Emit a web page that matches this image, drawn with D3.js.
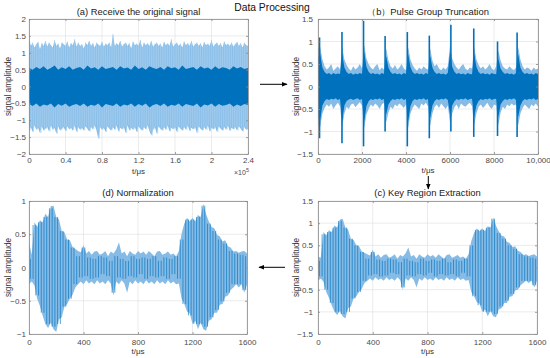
<!DOCTYPE html>
<html><head><meta charset="utf-8">
<script src="https://cdn.jsdelivr.net/npm/d3@7"></script>
<style>
body{margin:0;background:#fff}
svg{display:block}
text{font-family:"Liberation Sans",Arial,sans-serif}
</style>
</head><body>
<svg id="chart" width="550" height="358"></svg>
<script>
// ---------- tick definitions ----------
const aTicksX = [0, 40000, 80000, 120000, 160000, 200000, 240000];
const aTickLabelsX = ["0", "0.4", "0.8", "1.2", "1.6", "2", "2.4"];
const aTicksY = [-2, -1.5, -1, -0.5, 0, 0.5, 1, 1.5, 2];
const bTicksX = [0, 2000, 4000, 6000, 8000, 10000];
const bTickLabelsX = ["0", "2000", "4000", "6000", "8000", "10,000"];
const bcTicksY = [-1.5, -1, -0.5, 0, 0.5, 1, 1.5];
const cdTicksX = [0, 400, 800, 1200, 1600];
const cdTickLabelsX = ["0", "400", "800", "1200", "1600"];
const dTicksY = [-1, -0.5, 0, 0.5, 1];

// ---------- (a) original signal: envelope samples every 2000 (x 10^5 scale) ----------
const aStep = 2000;
const aOuterHi = [1.45,1.2,1.3,1.15,1.25,1.32,1.1,1.28,1.2,1.35,
 1.18,1.3,1.22,1.15,1.38,1.2,1.27,1.12,1.3,1.25,
 1.2,1.33,1.15,1.28,1.22,1.4,1.18,1.3,1.2,1.25,
 1.12,1.3,1.22,1.35,1.2,1.28,1.15,1.3,1.24,1.2,
 1.32,1.18,1.27,1.22,1.3,1.15,1.55,1.2,1.28,1.22,
 1.35,1.18,1.25,1.3,1.2,1.28,1.12,1.33,1.22,1.27,
 1.2,1.38,1.15,1.3,1.22,1.28,1.2,1.35,1.18,1.25,
 1.3,1.2,1.27,1.15,1.32,1.22,1.28,1.2,1.4,1.18,
 1.25,1.3,1.2,1.27,1.15,1.33,1.22,1.28,1.2,1.35,
 1.18,1.25,1.3,1.2,1.28,1.15,1.32,1.22,1.27,1.2,
 1.38,1.18,1.25,1.3,1.2,1.28,1.15,1.33,1.22,1.27,
 1.2,1.3,1.18,1.25,1.32,1.2,1.28,1.15,1.3,1.22,1.2];
const aOuterLo = [-1.3,-1.2,-1.35,-1.15,-1.28,-1.22,-1.38,-1.18,-1.3,-1.25,
 -1.2,-1.33,-1.15,-1.28,-1.22,-1.4,-1.18,-1.3,-1.25,-1.2,
 -1.32,-1.18,-1.27,-1.22,-1.3,-1.15,-1.35,-1.2,-1.28,-1.22,
 -1.3,-1.18,-1.25,-1.33,-1.2,-1.27,-1.15,-1.3,-1.55,-1.2,
 -1.28,-1.22,-1.35,-1.18,-1.25,-1.3,-1.2,-1.28,-1.15,-1.33,
 -1.22,-1.27,-1.2,-1.38,-1.15,-1.3,-1.22,-1.28,-1.2,-1.35,
 -1.18,-1.25,-1.3,-1.2,-1.27,-1.15,-1.32,-1.45,-1.28,-1.2,
 -1.4,-1.18,-1.25,-1.3,-1.2,-1.28,-1.15,-1.33,-1.22,-1.27,
 -1.2,-1.35,-1.18,-1.25,-1.3,-1.2,-1.28,-1.15,-1.32,-1.22,
 -1.27,-1.2,-1.38,-1.18,-1.25,-1.3,-1.2,-1.28,-1.15,-1.33,
 -1.22,-1.27,-1.2,-1.35,-1.18,-1.25,-1.3,-1.2,-1.28,-1.15,
 -1.32,-1.22,-1.27,-1.2,-1.3,-1.18,-1.25,-1.33,-1.2,-1.28,-1.25];
const aCoreStep = 4000;
const aCoreHi = [0.55,0.5,0.58,0.52,0.6,0.5,0.55,0.62,0.5,0.57,
 0.52,0.6,0.5,0.55,0.58,0.5,0.62,0.53,0.57,0.5,
 0.6,0.52,0.55,0.58,0.5,0.6,0.53,0.56,0.5,0.62,
 0.52,0.57,0.5,0.6,0.55,0.52,0.58,0.5,0.6,0.54,
 0.57,0.5,0.62,0.52,0.55,0.58,0.5,0.6,0.53,0.56,
 0.5,0.6,0.52,0.57,0.55,0.5,0.6,0.53,0.58,0.52,0.55];
const aCoreLo = [-0.52,-0.58,-0.5,-0.6,-0.53,-0.56,-0.5,-0.62,-0.52,-0.57,
 -0.5,-0.6,-0.55,-0.52,-0.58,-0.5,-0.6,-0.54,-0.57,-0.5,
 -0.62,-0.52,-0.55,-0.58,-0.5,-0.6,-0.53,-0.56,-0.5,-0.6,
 -0.52,-0.57,-0.5,-0.62,-0.55,-0.52,-0.58,-0.5,-0.6,-0.54,
 -0.57,-0.5,-0.6,-0.52,-0.55,-0.58,-0.5,-0.62,-0.53,-0.56,
 -0.5,-0.6,-0.52,-0.57,-0.55,-0.5,-0.6,-0.53,-0.58,-0.52,-0.55];

// ---------- (b) pulse group ----------
const bPulseT = [70, 1090, 2070, 3050, 4060, 5060, 6040, 7080, 8160, 9050];
const bPulseHi = [1.09, 1.21, 1.46, 1.12, 1.21, 1.13, 1.37, 1.29, 1.0, 1.2];
const bPulseLo = [-1.15, -1.26, -1.33, -1.0, -1.33, -1.15, -1.0, -1.12, -1.1, -1.12];
const bStep = 100;
const bOuterHi = [0.85,0.88,0.6,0.45,0.38,0.42,0.5,0.35,0.4,0.45,0.38,
 0.88,0.6,0.48,0.4,0.35,0.45,0.38,0.42,0.5,0.4,
 0.92,0.62,0.5,0.42,0.38,0.45,0.5,0.36,0.42,0.38,
 0.85,0.58,0.45,0.4,0.48,0.38,0.42,0.5,0.4,0.36,
 0.88,0.6,0.48,0.4,0.35,0.42,0.38,0.45,0.4,0.38,
 0.85,0.58,0.45,0.5,0.4,0.36,0.42,0.38,0.45,
 0.9,0.62,0.5,0.42,0.38,0.45,0.5,0.4,0.36,0.42,0.4,
 0.88,0.6,0.48,0.4,0.45,0.38,0.42,0.5,0.4,0.36,0.45,
 0.8,0.58,0.45,0.4,0.38,0.45,0.4,0.36,0.42,
 0.88,0.6,0.45,0.38,0.42,0.4,0.35,0.42,0.38,0.4];
const bOuterLo = [-0.88,-0.9,-0.6,-0.48,-0.4,-0.45,-0.38,-0.5,-0.42,-0.36,-0.44,
 -0.9,-0.6,-0.45,-0.5,-0.4,-0.38,-0.46,-0.4,-0.35,-0.42,
 -0.92,-0.62,-0.5,-0.4,-0.45,-0.38,-0.42,-0.5,-0.4,-0.36,
 -0.8,-0.58,-0.45,-0.5,-0.4,-0.44,-0.38,-0.42,-0.48,-0.4,
 -0.92,-0.6,-0.48,-0.4,-0.45,-0.5,-0.38,-0.42,-0.36,-0.44,
 -0.88,-0.6,-0.45,-0.4,-0.48,-0.38,-0.44,-0.5,-0.42,
 -0.8,-0.6,-0.46,-0.4,-0.5,-0.38,-0.42,-0.45,-0.4,-0.36,-0.44,
 -0.86,-0.6,-0.45,-0.4,-0.48,-0.42,-0.36,-0.45,-0.5,-0.4,-0.42,
 -0.86,-0.58,-0.45,-0.5,-0.4,-0.44,-0.38,-0.42,-0.4,
 -0.86,-0.6,-0.48,-0.4,-0.45,-0.5,-0.4,-0.44,-0.38,-0.45];
const bCoreHi = [0.68,0.72,0.42,0.32,0.28,0.3,0.26,0.3,0.27,0.29,0.28,
 0.72,0.42,0.32,0.28,0.3,0.26,0.29,0.27,0.3,0.28,
 0.78,0.44,0.33,0.28,0.3,0.27,0.29,0.26,0.3,0.28,
 0.68,0.42,0.32,0.28,0.3,0.27,0.29,0.26,0.3,0.28,
 0.72,0.44,0.32,0.28,0.3,0.27,0.29,0.26,0.3,0.28,
 0.68,0.42,0.32,0.28,0.3,0.27,0.29,0.26,0.3,
 0.76,0.44,0.33,0.28,0.3,0.27,0.29,0.26,0.3,0.28,0.27,
 0.72,0.44,0.32,0.28,0.3,0.27,0.29,0.26,0.3,0.28,0.27,
 0.62,0.4,0.32,0.28,0.3,0.27,0.29,0.26,0.3,
 0.72,0.42,0.32,0.28,0.3,0.27,0.29,0.26,0.3,0.28];
const bCoreLo = [-0.7,-0.74,-0.42,-0.32,-0.28,-0.3,-0.27,-0.29,-0.26,-0.3,-0.28,
 -0.75,-0.42,-0.32,-0.29,-0.27,-0.3,-0.28,-0.26,-0.3,-0.28,
 -0.78,-0.44,-0.33,-0.28,-0.3,-0.27,-0.29,-0.26,-0.3,-0.28,
 -0.62,-0.4,-0.32,-0.28,-0.3,-0.27,-0.29,-0.26,-0.3,-0.28,
 -0.78,-0.44,-0.32,-0.28,-0.3,-0.27,-0.29,-0.26,-0.3,-0.28,
 -0.7,-0.42,-0.32,-0.28,-0.3,-0.27,-0.29,-0.26,-0.3,
 -0.62,-0.42,-0.33,-0.28,-0.3,-0.27,-0.29,-0.26,-0.3,-0.28,-0.27,
 -0.68,-0.42,-0.32,-0.28,-0.3,-0.27,-0.29,-0.26,-0.3,-0.28,-0.27,
 -0.68,-0.4,-0.32,-0.28,-0.3,-0.27,-0.29,-0.26,-0.3,
 -0.68,-0.42,-0.32,-0.28,-0.3,-0.27,-0.29,-0.26,-0.3,-0.28];

// ---------- (c) key region: samples every 20 us ----------
const cStep = 20;
const cEnvHi = [0.25,0.22,0.8,0.72,0.84,0.8,0.95,0.9,1.08,1.1,
 0.9,0.85,0.65,0.62,0.5,0.48,0.36,0.33,0.3,0.27,
 0.4,0.25,0.3,0.22,0.28,0.3,0.22,0.25,0.3,0.2,
 0.28,0.25,0.32,0.45,0.25,0.28,0.2,0.3,0.25,0.22,
 0.3,0.25,0.28,0.22,0.3,0.25,0.2,0.28,0.3,0.22,
 0.25,0.28,0.22,0.25,0.2,0.3,0.6,0.78,0.88,0.82,
 0.88,0.82,0.93,0.9,1.13,0.95,0.82,0.72,0.7,0.58,
 0.55,0.46,0.48,0.38,0.35,0.28,0.3,0.26,0.28,0.3,0.25];
const cEnvLo = [-0.3,-0.25,-0.32,-0.55,-0.68,-0.85,-1.0,-1.07,-0.98,-1.1,
 -1.15,-0.92,-0.88,-0.7,-0.65,-0.55,-0.48,-0.35,-0.3,-0.25,
 -0.3,-0.22,-0.28,-0.25,-0.3,-0.22,-0.28,-0.25,-0.3,-0.22,
 -0.28,-0.5,-0.25,-0.3,-0.22,-0.28,-0.45,-0.25,-0.3,-0.22,
 -0.28,-0.25,-0.3,-0.22,-0.28,-0.25,-0.3,-0.22,-0.28,-0.25,
 -0.3,-0.22,-0.28,-0.25,-0.3,-0.28,-0.55,-0.65,-0.78,-0.82,
 -1.0,-0.95,-1.1,-0.98,-1.1,-1.12,-0.95,-0.92,-0.8,-0.8,
 -0.66,-0.65,-0.52,-0.5,-0.4,-0.35,-0.3,-0.35,-0.3,-0.45,-0.3];
const cPeaks = [0.15,-0.2,0.75,-0.5,0.8,-0.8,0.9,-1.0,1.05,-1.05,
 0.9,-1.0,0.65,-0.7,0.5,-0.55,0.35,-0.3,0.2,-0.18,
 0.35,-0.15,0.18,-0.2,0.15,-0.18,0.2,-0.12,0.18,-0.15,
 0.12,-0.45,0.2,-0.18,0.15,-0.2,0.12,-0.15,0.2,-0.18,
 0.15,-0.12,0.18,-0.2,0.15,-0.15,0.2,-0.18,0.12,-0.15,
 0.18,-0.2,0.15,-0.12,0.2,-0.2,0.5,-0.65,0.85,-0.85,
 0.85,-1.0,0.9,-1.0,1.1,-1.05,0.78,-0.88,0.65,-0.75,
 0.5,-0.6,0.42,-0.45,0.3,-0.3,0.25,-0.3,0.22,-0.4,0.2];

// ---------- (d) normalization: samples every 20 us ----------
const dStep = 20;
const dEnvHi = [0.38,0.19,0.68,0.61,0.71,0.68,0.81,0.76,0.92,0.93,
 0.76,0.72,0.55,0.53,0.42,0.41,0.31,0.28,0.25,0.23,
 0.34,0.21,0.25,0.19,0.24,0.25,0.19,0.21,0.25,0.17,
 0.24,0.21,0.27,0.38,0.21,0.24,0.17,0.25,0.21,0.19,
 0.25,0.21,0.24,0.19,0.25,0.21,0.17,0.24,0.25,0.19,
 0.21,0.24,0.19,0.21,0.17,0.25,0.51,0.66,0.75,0.69,
 0.75,0.69,0.79,0.76,0.96,0.8,0.69,0.61,0.59,0.49,
 0.47,0.39,0.41,0.32,0.3,0.24,0.25,0.22,0.24,0.25,0.21];
const dEnvLo = [-0.25,-0.21,-0.27,-0.47,-0.58,-0.72,-0.85,-0.91,-0.83,-0.93,
 -0.97,-0.78,-0.75,-0.59,-0.55,-0.47,-0.41,-0.3,-0.25,-0.21,
 -0.25,-0.19,-0.24,-0.21,-0.25,-0.19,-0.24,-0.21,-0.25,-0.19,
 -0.24,-0.42,-0.21,-0.25,-0.19,-0.24,-0.38,-0.21,-0.25,-0.19,
 -0.24,-0.21,-0.25,-0.19,-0.24,-0.21,-0.25,-0.19,-0.24,-0.21,
 -0.25,-0.19,-0.24,-0.21,-0.25,-0.24,-0.47,-0.55,-0.66,-0.69,
 -0.85,-0.8,-0.93,-0.83,-0.93,-0.95,-0.8,-0.78,-0.68,-0.68,
 -0.56,-0.55,-0.44,-0.42,-0.34,-0.3,-0.25,-0.3,-0.25,-0.38,-0.25];
const dPeaks = [0.13,-0.17,0.64,-0.42,0.68,-0.68,0.76,-0.85,0.89,-0.89,
 0.76,-0.85,0.55,-0.59,0.42,-0.47,0.3,-0.25,0.17,-0.15,
 0.3,-0.13,0.15,-0.17,0.13,-0.15,0.17,-0.1,0.15,-0.13,
 0.1,-0.38,0.17,-0.15,0.13,-0.17,0.1,-0.13,0.17,-0.15,
 0.13,-0.1,0.15,-0.17,0.13,-0.13,0.17,-0.15,0.1,-0.13,
 0.15,-0.17,0.13,-0.1,0.17,-0.17,0.42,-0.55,0.72,-0.72,
 0.72,-0.85,0.76,-0.85,0.93,-0.89,0.66,-0.75,0.55,-0.64,
 0.42,-0.51,0.36,-0.38,0.25,-0.25,0.21,-0.25,0.19,-0.34,0.17];

// ---------- drawing ----------
const LIGHT = "#86bbe6";
const DARK = "#0072BD";
const svg = d3.select("#chart");
const minus = v => (v < 0 ? "\u2212" + Math.abs(v) : String(v));

function areaLayer(g, x, y, step, hi, lo, color) {
  const data = hi.map((h, i) => ({ t: i * step, h, l: lo[i] }));
  g.append("path").datum(data)
    .attr("d", d3.area().x(d => x(d.t)).y0(d => y(d.l)).y1(d => y(d.h)))
    .attr("fill", color).attr("stroke", "none");
}
function strokeLayer(g, x, y, step, vals, color, w) {
  const segs = vals.slice(1).map((v, i) => ({ t: i * step + step / 2, a: vals[i], b: v }));
  g.append("g").selectAll("line").data(segs).join("line")
    .attr("x1", d => x(d.t)).attr("x2", d => x(d.t))
    .attr("y1", d => y(d.a)).attr("y2", d => y(d.b))
    .attr("stroke", color).attr("stroke-width", w);
}
function zigzagLayer(g, x, y, step, hi, lo, color, w) {
  const pts = [];
  hi.forEach((h, i) => { pts.push([i * step, h]); pts.push([i * step + step / 2, lo[i]]); });
  g.append("path").datum(pts)
    .attr("d", d3.line().x(d => x(d[0])).y(d => y(d[1])))
    .attr("fill", "none").attr("stroke", color).attr("stroke-width", w);
}

function panel(cfg) {
  const g = svg.append("g");
  const x = d3.scaleLinear().domain(cfg.xDomain).range([cfg.left, cfg.right]);
  const y = d3.scaleLinear().domain(cfg.yDomain).range([cfg.bottom, cfg.top]);

  g.append("g").selectAll("line").data(cfg.xTicks).join("line")
    .attr("x1", d => x(d)).attr("x2", d => x(d))
    .attr("y1", cfg.top).attr("y2", cfg.bottom)
    .attr("stroke", "#e3e3e3").attr("stroke-width", 0.7);
  g.append("g").selectAll("line").data(cfg.yTicks).join("line")
    .attr("y1", d => y(d)).attr("y2", d => y(d))
    .attr("x1", cfg.left).attr("x2", cfg.right)
    .attr("stroke", "#e3e3e3").attr("stroke-width", 0.7);

  const cid = "clip-" + cfg.name;
  svg.append("clipPath").attr("id", cid).append("rect")
    .attr("x", cfg.left).attr("y", cfg.top)
    .attr("width", cfg.right - cfg.left).attr("height", cfg.bottom - cfg.top);
  const sg = g.append("g").attr("clip-path", `url(#${cid})`);
  cfg.draw(sg, x, y);

  const style = sel => {
    sel.select(".domain").attr("stroke", "#8a8a8a").attr("stroke-width", 0.8);
    sel.selectAll(".tick line").attr("stroke", "#8a8a8a").attr("stroke-width", 0.8);
    sel.selectAll("text").attr("fill", "#4a4a4a").attr("font-size", 8)
      .attr("font-family", "'Liberation Sans', Arial, sans-serif");
    sel.attr("font-family", null).attr("font-size", null);
  };
  g.append("g").attr("transform", `translate(0,${cfg.bottom})`)
    .call(d3.axisBottom(x).tickValues(cfg.xTicks).tickFormat((d, i) => cfg.xLabels[i])
      .tickSizeInner(-2).tickSizeOuter(0).tickPadding(cfg.xPad)).call(style);
  g.append("g").attr("transform", `translate(0,${cfg.top})`)
    .call(d3.axisTop(x).tickValues(cfg.xTicks).tickFormat("")
      .tickSizeInner(-2).tickSizeOuter(0)).call(style);
  g.append("g").attr("transform", `translate(${cfg.left},0)`)
    .call(d3.axisLeft(y).tickValues(cfg.yTicks).tickFormat(minus)
      .tickSizeInner(-2).tickSizeOuter(0).tickPadding(cfg.yPad)).call(style);
  g.append("g").attr("transform", `translate(${cfg.right},0)`)
    .call(d3.axisRight(y).tickValues(cfg.yTicks).tickFormat("")
      .tickSizeInner(-2).tickSizeOuter(0)).call(style);

  const cx = (cfg.left + cfg.right) / 2;
  g.append("text").attr("x", cx).attr("y", cfg.titleY).attr("text-anchor", "middle")
    .attr("font-size", 9.4).attr("fill", "#1a1a1a").text(cfg.title);
  g.append("text").attr("x", cx).attr("y", cfg.xLabelY).attr("text-anchor", "middle")
    .attr("font-size", 8).attr("fill", "#333").text("t/\u03bcs");
  g.append("text")
    .attr("transform", `translate(${cfg.yLabelX},${(cfg.top + cfg.bottom) / 2}) rotate(-90)`)
    .attr("text-anchor", "middle").attr("font-size", 8.2).attr("fill", "#333")
    .text("signal amplitude");
  return { x, y };
}

panel({
  name: "a", left: 29, right: 248, top: 19, bottom: 154,
  xDomain: [0, 240000], yDomain: [-2, 2],
  xTicks: aTicksX, xLabels: aTickLabelsX, yTicks: aTicksY, xPad: 3.5, yPad: 3,
  title: "(a) Receive the original signal", titleY: 15, xLabelY: 174, yLabelX: 10.5,
  draw: (g, x, y) => {
    areaLayer(g, x, y, aStep, aOuterHi, aOuterLo, LIGHT);
    zigzagLayer(g, x, y, aStep, aOuterHi, aOuterLo, "#a9d0f0", 0.5);
    areaLayer(g, x, y, aCoreStep, aCoreHi, aCoreLo, DARK);
  }
});
panel({
  name: "b", left: 318, right: 538, top: 19, bottom: 154,
  xDomain: [0, 10000], yDomain: [-1.5, 1.5],
  xTicks: bTicksX, xLabels: bTickLabelsX, yTicks: bcTicksY, xPad: 3.5, yPad: 5,
  title: "\uff08b\uff09Pulse Group Truncation", titleY: 15, xLabelY: 173, yLabelX: 299,
  draw: (g, x, y) => {
    areaLayer(g, x, y, bStep, bOuterHi, bOuterLo, LIGHT);
    areaLayer(g, x, y, bStep, bCoreHi, bCoreLo, DARK);
    const pulses = bPulseT.map((t, i) => ({ t, hi: bPulseHi[i], lo: bPulseLo[i] }));
    g.append("g").selectAll("line").data(pulses).join("line")
      .attr("x1", d => x(d.t)).attr("x2", d => x(d.t))
      .attr("y1", d => y(d.lo)).attr("y2", d => y(d.hi))
      .attr("stroke", DARK).attr("stroke-width", 1.6);
  }
});
panel({
  name: "d", left: 29, right: 247, top: 201, bottom: 334,
  xDomain: [0, 1600], yDomain: [-1, 1],
  xTicks: cdTicksX, xLabels: cdTickLabelsX, yTicks: dTicksY, xPad: 5.5, yPad: 3,
  title: "(d) Normalization", titleY: 196, xLabelY: 354, yLabelX: 10.5,
  draw: (g, x, y) => {
    areaLayer(g, x, y, dStep, dEnvHi, dEnvLo, LIGHT);
    strokeLayer(g, x, y, dStep, dPeaks, DARK, 0.65);
  }
});
panel({
  name: "c", left: 318, right: 537, top: 201, bottom: 334,
  xDomain: [0, 1600], yDomain: [-1.5, 1.5],
  xTicks: cdTicksX, xLabels: cdTickLabelsX, yTicks: bcTicksY, xPad: 5.5, yPad: 5,
  title: "(c) Key Region Extraction", titleY: 196, xLabelY: 354, yLabelX: 299,
  draw: (g, x, y) => {
    areaLayer(g, x, y, cStep, cEnvHi, cEnvLo, LIGHT);
    strokeLayer(g, x, y, cStep, cPeaks, DARK, 0.65);
  }
});

const ex = svg.append("text").attr("x", 234).attr("y", 175).attr("font-size", 7).attr("fill", "#4a4a4a");
ex.append("tspan").text("\u00d710");
ex.append("tspan").attr("dy", -3).attr("font-size", 5.5).text("5");

svg.append("text").attr("x", 272).attr("y", 11).attr("text-anchor", "middle")
  .attr("font-size", 10.3).attr("fill", "#111").text("Data Processing");

const defs = svg.append("defs");
defs.append("marker").attr("id", "ah").attr("viewBox", "0 0 10 10")
  .attr("refX", 9).attr("refY", 5).attr("markerWidth", 6).attr("markerHeight", 6)
  .attr("markerUnits", "userSpaceOnUse").attr("orient", "auto")
  .append("path").attr("d", "M0,1 L10,5 L0,9 Z").attr("fill", "#000");
const arrows = [
  [260, 84.3, 287, 84.3],
  [428.3, 176, 428.3, 189],
  [285, 267.3, 259, 267.3]
];
svg.selectAll("line.arrow").data(arrows).join("line").attr("class", "arrow")
  .attr("x1", d => d[0]).attr("y1", d => d[1]).attr("x2", d => d[2]).attr("y2", d => d[3])
  .attr("stroke", "#000").attr("stroke-width", 1).attr("marker-end", "url(#ah)");
</script>
</body></html>
